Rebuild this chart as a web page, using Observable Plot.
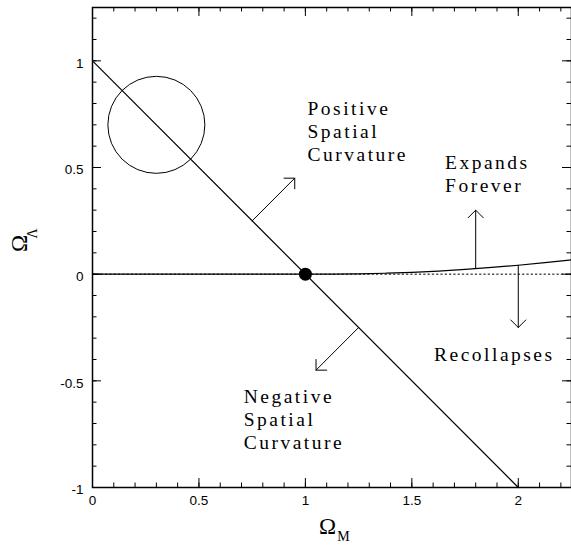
<!DOCTYPE html>
<html><head><meta charset="utf-8">
<script src="https://cdn.jsdelivr.net/npm/d3@7"></script>
<script src="https://cdn.jsdelivr.net/npm/@observablehq/plot@0.6"></script>
<style>body{margin:0;background:#fff}</style>
</head><body><div id="chart"></div>
<script>
// Flat-universe line: Omega_Lambda = 1 - Omega_M
const flatM = [0, 2];
const flatL = [1, -1];
// Expands-forever / recollapse boundary
const boundaryM = [0, 1, 1.125, 1.25, 1.375, 1.5, 1.625, 1.75, 1.875, 2, 2.125, 2.25];
const boundaryL = [0, 0, 0.0002, 0.0015, 0.0043, 0.0085, 0.0147, 0.0223, 0.0314, 0.0419, 0.0537, 0.067];
// Omega_Lambda = 0 reference (dotted)
const zeroM = [0, 2.25];
const zeroL = [0, 0];
// Arrows
const arrowX1 = [0.75, 1.25, 1.8, 2.0];
const arrowY1 = [0.25, -0.25, 0.026, 0.042];
const arrowX2 = [0.95, 1.05, 1.8, 2.0];
const arrowY2 = [0.45, -0.45, 0.30, -0.25];
// Annotations
const labels = ["Positive\nSpatial\nCurvature", "Negative\nSpatial\nCurvature", "Expands\nForever", "Recollapses"];
const labelX = [1.01, 0.71, 1.656, 1.604];
const labelY = [0.822, -0.528, 0.569, -0.333];
// Circle and point
const circleM = [0.3], circleL = [0.7];
const pointM = [1], pointL = [0];
// Ticks
const xTickLabels = [0, 0.5, 1, 1.5, 2];
const yTickLabels = [-1, -0.5, 0, 0.5, 1];
const xTicks = d3.range(0, 23).map(i => i / 10);
const yTicks = d3.range(-10, 13).map(i => i / 10);

const W = 571, H = 551, mL = 92, mR = 0, mT = 7, mB = 64;
const innerW = W - mL - mR, innerH = H - mT - mB;
const major = v => Math.abs(v * 2 - Math.round(v * 2)) < 1e-6;
const majLen = 9, minLen = 4.5;

const flat = flatM.map((m, i) => ({m, l: flatL[i]}));
const boundary = boundaryM.map((m, i) => ({m, l: boundaryL[i]}));
const zero = zeroM.map((m, i) => ({m, l: zeroL[i]}));
const arrows = arrowX1.map((x1, i) => ({x1, y1: arrowY1[i], x2: arrowX2[i], y2: arrowY2[i]}));
const annots = labels.map((t, i) => ({t, x: labelX[i], y: labelY[i]}));

const sans = "'Liberation Sans', Arial, Helvetica, sans-serif";
const serif = "'Liberation Serif', 'Times New Roman', serif";

const chart = Plot.plot({
  width: W, height: H,
  marginLeft: mL, marginRight: mR, marginTop: mT, marginBottom: mB,
  x: {domain: [0, 2.25], axis: null},
  y: {domain: [-1, 1.25], axis: null},
  style: {background: "#fff"},
  marks: [
    Plot.line(zero, {x: "m", y: "l", stroke: "black", strokeWidth: 1, strokeDasharray: "1.5,2.8"}),
    Plot.line(boundary, {x: "m", y: "l", stroke: "black", strokeWidth: 1.2, curve: "monotone-x"}),
    Plot.line(flat, {x: "m", y: "l", stroke: "black", strokeWidth: 1.2}),
    Plot.dot(circleM.map((m, i) => ({m, l: circleL[i]})), {x: "m", y: "l", r: 48.5, stroke: "black", strokeWidth: 1, fill: "none"}),
    Plot.dot(pointM.map((m, i) => ({m, l: pointL[i]})), {x: "m", y: "l", r: 6.5, fill: "black", stroke: "none"}),
    Plot.arrow(arrows, {x1: "x1", y1: "y1", x2: "x2", y2: "y2", stroke: "black", strokeWidth: 1, headAngle: 90, headLength: 16}),
    Plot.text(annots, {x: "x", y: "y", text: "t", textAnchor: "start", lineAnchor: "top", lineHeight: 1.17, fontFamily: serif, fontSize: 19.5, fill: "black"}),
    // ticks (inward, all four sides)
    Plot.tickX(xTicks, {x: d => d, stroke: "black", strokeWidth: 1, insetTop: innerH - minLen}),
    Plot.tickX(xTicks.filter(major), {x: d => d, stroke: "black", strokeWidth: 1, insetTop: innerH - majLen}),
    Plot.tickX(xTicks, {x: d => d, stroke: "black", strokeWidth: 1, insetBottom: innerH - minLen}),
    Plot.tickX(xTicks.filter(major), {x: d => d, stroke: "black", strokeWidth: 1, insetBottom: innerH - majLen}),
    Plot.tickY(yTicks, {y: d => d, stroke: "black", strokeWidth: 1, insetRight: innerW - minLen}),
    Plot.tickY(yTicks.filter(major), {y: d => d, stroke: "black", strokeWidth: 1, insetRight: innerW - majLen}),
    Plot.tickY(yTicks, {y: d => d, stroke: "black", strokeWidth: 1, insetLeft: innerW - minLen}),
    Plot.tickY(yTicks.filter(major), {y: d => d, stroke: "black", strokeWidth: 1, insetLeft: innerW - majLen}),
    Plot.frame({stroke: "black", strokeWidth: 1.5}),
    // tick labels
    Plot.text(xTickLabels, {x: d => d, frameAnchor: "bottom", dy: 17.5, text: d => String(d), fontFamily: sans, fontSize: 13.5, fill: "black"}),
    Plot.text(yTickLabels, {y: d => d, frameAnchor: "left", dx: -9, dy: 2.5, textAnchor: "end", text: d => String(d), fontFamily: sans, fontSize: 13.5, fill: "black"}),
    // axis titles
    Plot.text(["Ω"], {frameAnchor: "bottom", dx: -4.5, dy: 46, text: d => d, fontFamily: serif, fontSize: 23, fill: "black"}),
    Plot.text(["M"], {frameAnchor: "bottom", dx: 11.5, dy: 53, text: d => d, fontFamily: serif, fontSize: 14, fill: "black"}),
    Plot.text(["Ω"], {frameAnchor: "left", dx: -72.5, dy: 4.5, rotate: -90, text: d => d, fontFamily: serif, fontSize: 23, fill: "black"}),
    Plot.text(["Λ"], {frameAnchor: "left", dx: -59.5, dy: -9, rotate: -90, text: d => d, fontFamily: serif, fontSize: 14, fill: "black"})
  ]
});
const words = ["Positive", "Negative", "Expands", "Recollapses"];
chart.querySelectorAll("text").forEach(t => {
  if (words.some(w => t.textContent.includes(w))) {
    t.style.letterSpacing = "2.5px";
  }
});
document.getElementById("chart").appendChild(chart);
</script>
</body></html>
